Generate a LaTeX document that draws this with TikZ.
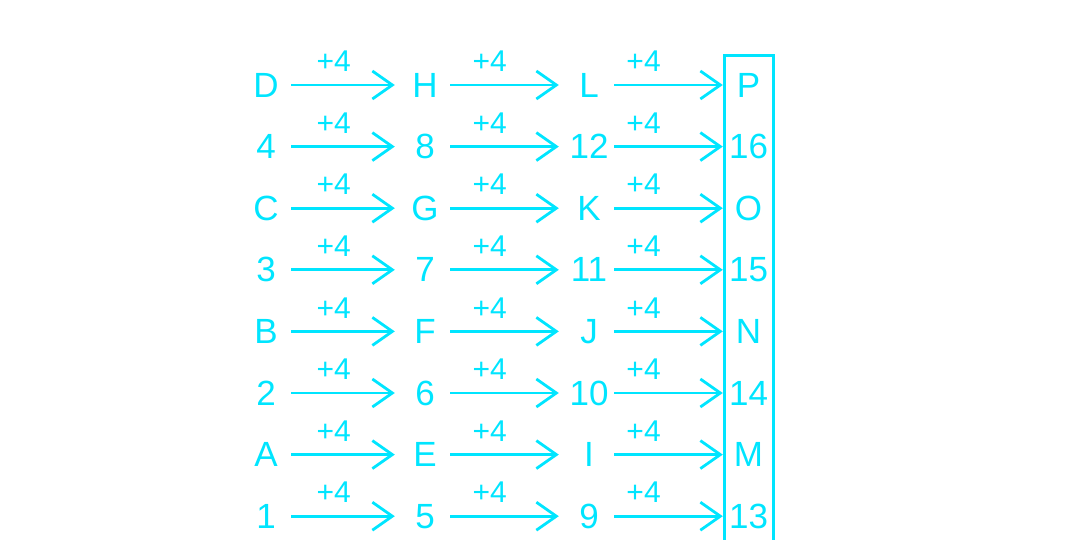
\documentclass[tikz,border=0pt]{standalone}
\usepackage{fontspec}
\setmainfont{Liberation Sans}
\usetikzlibrary{arrows.meta, positioning}
\definecolor{mycyan}{RGB}{0,229,255}
\tikzset{
  term/.style={inner sep=0pt, minimum width=40pt, text=mycyan,
    font=\fontsize{35}{37}\selectfont},
  lastterm/.style={term, minimum width=49pt},
  steplabel/.style={inner sep=0pt, text=mycyan,
    font=\fontsize{30}{32}\selectfont},
  arrow/.style={-{Straight Barb[length=20pt,width=28pt]}, line width=2.8pt,
    color=mycyan, shorten <=5pt, shorten >=10pt},
  boxline/.style={draw=mycyan, line width=3pt}
}
\begin{document}
\begin{tikzpicture}[x=1pt, y=-1pt]
  \useasboundingbox (0,0) rectangle (1079,540);

  % Column of results
  \draw[boxline] (724,56) rectangle (773,570);

  % Rows of terms, each step adds 4
  \foreach \ta/\tb/\tc/\td [count=\r] in {D/H/L/P, 4/8/12/16, C/G/K/O, 3/7/11/15,
      B/F/J/N, 2/6/10/14, A/E/I/M, 1/5/9/13} {
    \node[term] (a\r) at (266, {85+61.6*(\r-1)}) {\ta};
    \node[term] (b\r) at (425, {85+61.6*(\r-1)}) {\tb};
    \node[term] (c\r) at (589, {85+61.6*(\r-1)}) {\tc};
    \node[lastterm] (d\r) at (748.5, {85+61.6*(\r-1)}) {\td};

    \draw[arrow] (a\r) -- node[steplabel, pos=0.4, above=12pt] (p\r a) {+4} (b\r);
    \draw[arrow] (b\r) -- node[steplabel, pos=0.36, above=12pt] (p\r b) {+4} (c\r);
    \draw[arrow, shorten >=1pt] (c\r) -- node[steplabel, pos=0.3, above=12pt] (p\r c) {+4} (d\r);
  }
\end{tikzpicture}
\end{document}
